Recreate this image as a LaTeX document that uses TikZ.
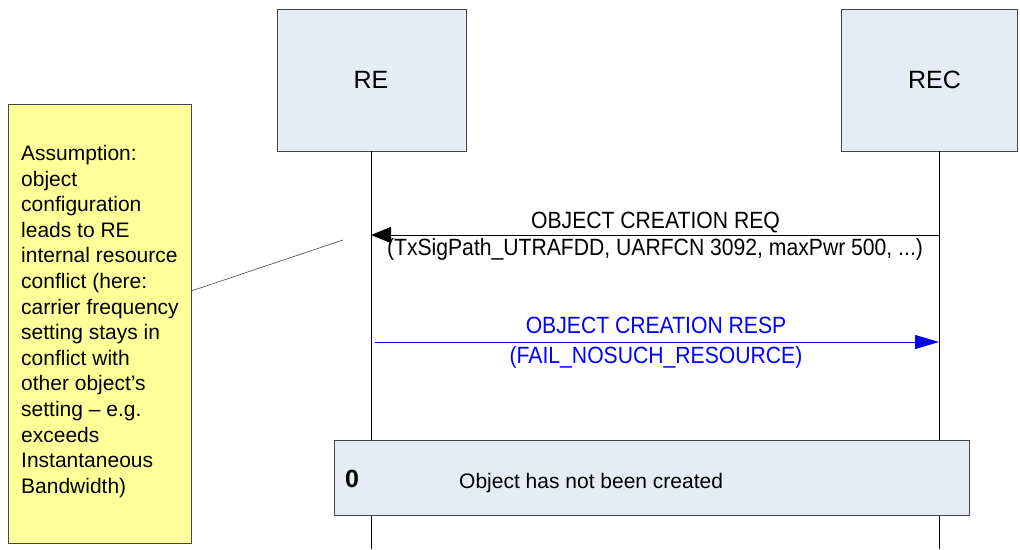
\documentclass[tikz,border=0pt]{standalone}
\usepackage{fontspec}
\setmainfont{Liberation Sans}
\newfontfamily\msgfont{Liberation Sans}[FakeStretch=0.9]
\usetikzlibrary{arrows.meta}
\definecolor{actorfill}{RGB}{230,236,246}
\definecolor{notefill}{RGB}{255,255,153}
\definecolor{edge}{RGB}{70,70,70}
\definecolor{msgblue}{RGB}{0,0,255}
\tikzset{
  actor/.style={draw=edge, fill=actorfill, inner sep=0pt},
  actorlabel/.style={inner sep=0pt, font=\fontsize{25}{30}\selectfont},
  lifeline/.style={draw=black, line width=1pt},
  notebox/.style={draw=edge, fill=notefill, inner sep=0pt},
  notetext/.style={inner sep=0pt, align=left, font=\fontsize{21}{25.6}\selectfont},
  msglabel/.style={font=\msgfont\fontsize{23.5}{28}\selectfont, inner sep=0pt},
  statebox/.style={draw=edge, fill=actorfill, inner sep=0pt},
}
\begin{document}
\begin{tikzpicture}[x=1pt,y=-1pt]
\useasboundingbox (0,0) rectangle (1020,549);
% actors
\node[actor, minimum width=189pt, minimum height=142pt] (re) at (371.5,80) {};
\node[actorlabel, anchor=base] (relbl) at (371,88) {RE};
\node[actor, minimum width=176pt, minimum height=142pt] (rec) at (929,80) {};
\node[actorlabel, anchor=base] (reclbl) at (934.5,88) {REC};
% lifelines
\coordinate (reTop) at (371,151);
\coordinate (reBot) at (371,549);
\coordinate (recTop) at (939,151);
\coordinate (recBot) at (939,549);
\draw[lifeline] (reTop) -- (reBot);
\draw[lifeline] (recTop) -- (recBot);
% note
\node[notebox, minimum width=183pt, minimum height=439pt] (note) at (99.5,323.5) {};
\node[notetext, anchor=north west] (notetxt) at (21,145)
  {Assumption:\\object\\configuration\\leads to RE\\internal resource\\conflict (here:\\carrier frequency\\setting stays in\\conflict with\\other object’s\\setting – e.g.\\exceeds\\Instantaneous\\Bandwidth)};
\coordinate (noteEnd) at (343,240);
\draw[edge, line width=0.6pt] (note.east |- 0,291) -- (noteEnd);
% REQ message
\coordinate (reqFrom) at (939,235);
\coordinate (reqTo) at (371,235);
\draw[line width=1pt, -{Triangle[length=20pt,width=16pt]}] (reqFrom) -- (reqTo);
\node[msglabel, anchor=base] (reqa) at (655.5,228) {OBJECT CREATION REQ};
\node[msglabel, anchor=base] (reqb) at (655,255) {(TxSigPath\_UTRAFDD, UARFCN 3092, maxPwr 500, ...)};
% RESP message
\coordinate (respFrom) at (375,342);
\coordinate (respTo) at (939,342);
\draw[msgblue, line width=1pt, -{Triangle[length=24pt,width=14pt]}] (respFrom) -- (respTo);
\node[msglabel, text=msgblue, anchor=base] (respa) at (656,333) {OBJECT CREATION RESP};
\node[msglabel, text=msgblue, anchor=base] (respb) at (656,363) {(FAIL\_NOSUCH\_RESOURCE)};
% state box
\node[statebox, minimum width=635pt, minimum height=75pt] (state) at (651.5,477.5) {};
\node[anchor=base west, inner sep=0pt, font=\fontsize{25}{30}\selectfont\bfseries] (num) at (345,487) {0};
\node[anchor=base west, inner sep=0pt, font=\fontsize{21}{25}\selectfont] (statetxt) at (459,488) {Object has not been created};
\end{tikzpicture}
\end{document}
